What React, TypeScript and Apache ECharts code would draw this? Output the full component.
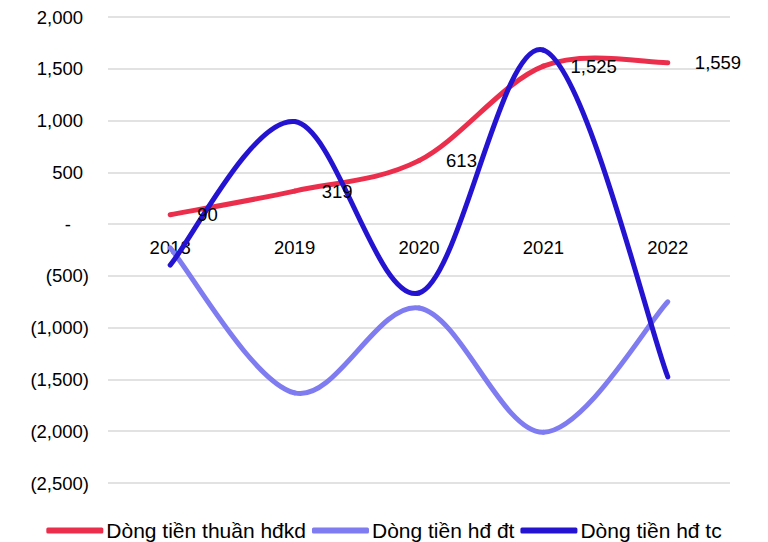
import React, { useEffect, useRef } from "react";
import * as echarts from "echarts";

const categories = ["2018", "2019", "2020", "2021", "2022"];
const seriesNames = ["Dòng tiền thuần hđkd", "Dòng tiền hđ đt", "Dòng tiền hđ tc"];
const hdkd = [90, 319, 613, 1525, 1559];
const hddt = [-230, -1630, -810, -2010, -750];
const hdtc = [-395, 990, -665, 1680, -1475];
const colors = ["#EC2E4D", "#7F7BF0", "#2413D0"];

function fmt(v: number): string {
  if (v === 0) return "-";
  const s = Math.abs(v).toLocaleString("en-US");
  return v < 0 ? "(" + s + ")" : s;
}

function fmtAxis(v: number): string {
  if (v === 0) return "{z|-}";
  if (v < 0) return "{n|" + fmt(v) + "}";
  return "{p|" + fmt(v) + "}";
}

function segPath(pts: number[][], i: number): string {
  const n = pts.length;
  const p0 = pts[Math.max(i - 1, 0)];
  const p1 = pts[i];
  const p2 = pts[i + 1];
  const p3 = pts[Math.min(i + 2, n - 1)];
  const c1 = [p1[0] + (p2[0] - p0[0]) / 6, p1[1] + (p2[1] - p0[1]) / 6];
  const c2 = [p2[0] - (p3[0] - p1[0]) / 6, p2[1] - (p3[1] - p1[1]) / 6];
  return `M${p1[0]},${p1[1]} C${c1[0]},${c1[1]} ${c2[0]},${c2[1]} ${p2[0]},${p2[1]}`;
}

function smoothSeries(name: string, values: number[], color: string, z: number) {
  return {
    name,
    type: "custom",
    data: values.map((v, i) => [i, v]),
    encode: { x: 0, y: 1 },
    itemStyle: { color },
    z,
    renderItem: (params: any, api: any) => {
      const i = params.dataIndex;
      if (i >= values.length - 1) return null;
      const pts = values.map((v, k) => api.coord([k, v]));
      return {
        type: "path",
        shape: { pathData: segPath(pts, i) },
        style: { stroke: color, lineWidth: 5, fill: "none", lineCap: "round" },
      };
    },
  };
}

export default function App() {
  const ref = useRef<HTMLDivElement>(null);
  useEffect(() => {
    if (!ref.current) return;
    const chart = echarts.init(ref.current, null, { renderer: "svg" });
    const font = "Liberation Sans, Arial, sans-serif";
    const fs = 18.5;
    chart.setOption({
      animation: false,
      color: colors,
      textStyle: { fontFamily: font },
      grid: { left: 108, right: 38, top: 17, bottom: 59 },
      legend: {
        top: 515,
        left: "center",
        icon: "roundRect",
        itemWidth: 57,
        itemHeight: 6,
        itemGap: 6,
        textStyle: { fontSize: 21, color: "#000", fontFamily: font, padding: [0, 0, 0, -2] },
        data: seriesNames,
      },
      xAxis: {
        type: "category",
        data: categories,
        axisLine: { show: false },
        axisTick: { show: false },
        axisLabel: { show: false },
      },
      yAxis: {
        type: "value",
        min: -2500,
        max: 2000,
        interval: 500,
        axisLine: { show: false },
        axisTick: { show: false },
        splitLine: { lineStyle: { color: "#D9D9D9", width: 1.5 } },
        axisLabel: {
          fontSize: fs,
          color: "#000",
          margin: 19,
          formatter: fmtAxis,
          fontFamily: font,
          rich: {
            p: { fontSize: fs, color: "#000", fontFamily: font, padding: [0, 6, 0, 0] },
            n: { fontSize: fs, color: "#000", fontFamily: font },
            z: { fontSize: fs, color: "#000", fontFamily: font, padding: [0, 18, 0, 0] },
          },
        },
      },
      series: [
        smoothSeries(seriesNames[1], hddt, colors[1], 1),
        smoothSeries(seriesNames[0], hdkd, colors[0], 2),
        smoothSeries(seriesNames[2], hdtc, colors[2], 3),
        {
          name: "labels",
          type: "scatter",
          data: hdkd.map((v, i) => [i, v]),
          symbolSize: 0.1,
          itemStyle: { color: "rgba(0,0,0,0)", opacity: 1 },
          z: 4,
          label: {
            show: true,
            position: "right",
            distance: 27,
            fontSize: fs,
            color: "#000",
            opacity: 1,
            fontFamily: font,
            formatter: (p: any) => fmt(p.value[1]),
          },
        },
        {
          name: "categories",
          type: "scatter",
          data: categories.map((c, i) => [i, 0]),
          symbolSize: 0.1,
          itemStyle: { color: "rgba(0,0,0,0)", opacity: 1 },
          z: 0,
          label: {
            show: true,
            position: "bottom",
            distance: 14,
            fontSize: fs,
            color: "#000",
            opacity: 1,
            fontFamily: font,
            formatter: (p: any) => categories[p.dataIndex],
          },
        },
      ],
    });
    return () => chart.dispose();
  }, []);
  return <div ref={ref} style={{ width: 768, height: 542, position: "absolute", left: 0, top: 0 }} />;
}
